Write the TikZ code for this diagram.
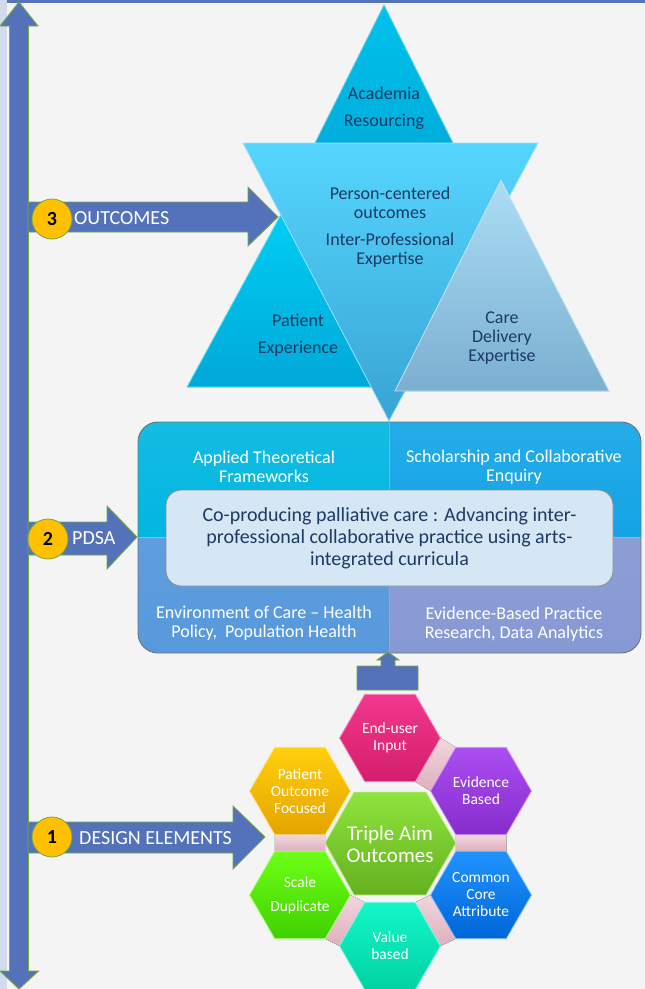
\documentclass[tikz,border=0pt]{standalone}
\usepackage{fontspec}
\setmainfont{Carlito}
\usetikzlibrary{shapes.geometric,calc}
\pgfdeclarelayer{bgl}
\pgfdeclarelayer{connl}
\pgfsetlayers{bgl,connl,main}
\definecolor{bgc}{HTML}{F4F4F4}
\definecolor{stripc}{HTML}{D2DBEC}
\definecolor{barblue}{HTML}{5473B8}
\definecolor{arrowblue}{HTML}{5472B9}
\definecolor{arrowgreen}{HTML}{76A83C}
\definecolor{numfill}{HTML}{FFC000}
\definecolor{navy}{HTML}{1C3A63}
\definecolor{acadT}{HTML}{00C2EC}
\definecolor{acadB}{HTML}{00A6D6}
\definecolor{patT}{HTML}{00D4F9}
\definecolor{patB}{HTML}{00A8D8}
\definecolor{invT}{HTML}{55D6FF}
\definecolor{invB}{HTML}{38A4D4}
\definecolor{careT}{HTML}{ABDDF5}
\definecolor{careB}{HTML}{7BAFD0}
\definecolor{qa}{HTML}{00B6E0}
\definecolor{qb}{HTML}{13A4E6}
\definecolor{qc}{HTML}{5799DC}
\definecolor{qd}{HTML}{8799D3}
\definecolor{corefill}{HTML}{D5E7F5}
\definecolor{euT}{HTML}{F2378D}
\definecolor{euB}{HTML}{D41E6B}
\definecolor{evT}{HTML}{AA4EF2}
\definecolor{evB}{HTML}{872CCC}
\definecolor{ccT}{HTML}{2092FF}
\definecolor{ccB}{HTML}{0066D6}
\definecolor{vbT}{HTML}{14F6C8}
\definecolor{vbB}{HTML}{00D2A2}
\definecolor{sdT}{HTML}{6EFF16}
\definecolor{sdB}{HTML}{40D000}
\definecolor{poT}{HTML}{FFD00C}
\definecolor{poB}{HTML}{E5A300}
\definecolor{taT}{HTML}{8EE43C}
\definecolor{taB}{HTML}{66B020}
\definecolor{pinkT}{HTML}{F2D6DD}
\definecolor{pinkB}{HTML}{DDB0BD}
\begin{document}
\begin{tikzpicture}[x=1pt,y=-1pt,
  blockarrow/.style={fill=arrowblue, draw=arrowgreen, line width=0.9pt, line join=miter},
  numcirc/.style={circle, fill=numfill, draw=arrowgreen, line width=0.8pt, minimum size=40pt, inner sep=0pt, font=\fontsize{20}{20}\selectfont\bfseries},
  arrowlabel/.style={anchor=west, text=white, font=\fontsize{20}{22}\selectfont, inner sep=0pt},
  tritext/.style={text=navy, align=center, font=\fontsize{18}{19}\selectfont, inner sep=0pt},
  quadtext/.style={text=white, align=center, font=\fontsize{18}{19}\selectfont, inner sep=0pt},
  hex/.style={regular polygon, regular polygon sides=6, minimum size=101pt, inner sep=0pt, outer sep=0pt, text=white, align=center, font=\fontsize{15.5}{17}\selectfont, line width=0.8pt},
  pinkconn/.style={top color=pinkT, bottom color=pinkB}
]
\begin{pgfonlayer}{bgl}
\fill[bgc] (0,0) rectangle (645,989);
\fill[stripc] (0,0) rectangle (7,989);
\fill[barblue] (7,0) rectangle (645,3.3);
\end{pgfonlayer}
\useasboundingbox (0,0) rectangle (645,989);

% vertical double arrow
\draw[blockarrow] (19,2) -- (38,26) -- (28.5,26) -- (28.5,971) -- (38.5,971) -- (19,989) -- (0,971) -- (9.5,971) -- (9.5,26) -- (0,26) -- cycle;

% triangles
\fill[top color=acadT, bottom color=acadB] (384,5) -- (480,197) -- (288,197) -- cycle;
\draw[acadT!60!white, line width=0.8pt] (384,5) -- (480,197) -- (288,197) -- cycle;
\fill[top color=patT, bottom color=patB] (297,185) -- (407,387) -- (187,387) -- cycle;
\draw[patT!60!white, line width=0.8pt] (297,185) -- (407,387) -- (187,387) -- cycle;
\fill[top color=invT, bottom color=invB] (243,143) -- (538,143) -- (389,421) -- cycle;
\draw[invT!60!white, line width=0.8pt] (243,143) -- (538,143) -- (389,421) -- cycle;
\fill[top color=careT, bottom color=careB] (501,180) -- (609,391) -- (395,391) -- cycle;
\draw[careT!70!white, line width=0.8pt] (501,180) -- (609,391) -- (395,391) -- cycle;

\node[tritext] (acad) at (384,108) {Academia\\[8pt]Resourcing};
\node[tritext] (person) at (390,227) {Person-centered\\outcomes\\[8pt]Inter-Professional\\Expertise};
\node[tritext] (patient) at (298,335) {Patient\\[8pt]Experience};
\node[tritext] (care) at (502,338) {Care\\Delivery\\Expertise};

% outcomes arrow
\draw[blockarrow] (28,202) -- (248,202) -- (248,187) -- (278,217) -- (248,246) -- (248,232) -- (28,232) -- cycle;
\node[numcirc] (n3) at (52,219) {3};
\node[arrowlabel] (t3) at (74,218) {OUTCOMES};

% PDSA arrow
\draw[blockarrow] (28,522) -- (107,522) -- (107,506) -- (137,537) -- (107,569) -- (107,555) -- (28,555) -- cycle;
\node[numcirc] (n2) at (48,539) {2};
\node[arrowlabel] (t2) at (72,538) {PDSA};

% design arrow
\draw[blockarrow] (28,822) -- (233,822) -- (233,806) -- (265,837) -- (233,869) -- (233,853) -- (28,853) -- cycle;
\node[numcirc] (n1) at (52,837) {1};
\node[arrowlabel] (t1) at (79,838) {DESIGN ELEMENTS};

% quadrant box
\begin{scope}
\clip[rounded corners=20pt] (138,422) rectangle (641,653);
\fill[top color=qa!92!white, bottom color=qa] (138,422) rectangle (389,537);
\fill[top color=qb!92!white, bottom color=qb] (389,422) rectangle (641,537);
\fill[top color=qc!95!white, bottom color=qc] (138,537) rectangle (389,653);
\fill[top color=qd!95!white, bottom color=qd] (389,537) rectangle (641,653);
\draw[black!35, line width=0.6pt] (389,422) -- (389,653);
\draw[black!30, line width=0.6pt] (138,537) -- (641,537);
\end{scope}
\draw[black!55, line width=0.9pt, rounded corners=20pt] (138,422) rectangle (641,653);

\node[quadtext] (qA) at (264,467) {Applied Theoretical\\Frameworks};
\node[quadtext] (qB) at (514,467) {Scholarship and Collaborative\\Enquiry};
\node[quadtext] (qC) at (264,623) {Environment of Care -- Health\\Policy,~ Population Health};
\node[quadtext] (qD) at (514,624) {Evidence-Based Practice\\Research, Data Analytics};

\node[draw=black!45, line width=0.9pt, fill=corefill, rounded corners=15pt, minimum width=447pt, minimum height=96pt, align=center, text=navy, font=\fontsize{20}{22}\selectfont, inner sep=0pt] (core) at (389.5,538) {Co-producing palliative care : Advancing inter-\\professional collaborative practice using arts-\\integrated curricula};

% small up arrow
\draw[blockarrow] (357,690) -- (357,666) -- (381,666) -- (381,660) -- (377,660) -- (388,652) -- (399,660) -- (395,660) -- (395,666) -- (418,666) -- (418,690) -- cycle;

% hexagons
\node[hex, top color=euT, bottom color=euB, draw=euT!55!white] (eu) at (390,738) {End-user\\Input};
\node[hex, top color=poT, bottom color=poB, draw=poT!55!white] (po) at (300,791) {Patient\\Outcome\\Focused};
\node[hex, top color=evT, bottom color=evB, draw=evT!55!white] (ev) at (481,791) {Evidence\\Based};
\node[hex, top color=sdT, bottom color=sdB, draw=sdT!55!white] (sd) at (300,895) {Scale\\[7pt]Duplicate};
\node[hex, top color=ccT, bottom color=ccB, draw=ccT!55!white] (cc) at (481,895) {Common\\Core\\Attribute};
\node[hex, top color=vbT, bottom color=vbB, draw=vbT!55!white] (vb) at (390,946) {Value\\based};
% central hexagon (wider than tall)
\path[top color=taT, bottom color=taB, draw=taT!55!white, line width=0.8pt]
  (325,843) -- (354,792) -- (426,792) -- (456,843) -- (426,895) -- (354,895) -- cycle;
\node[text=white, align=center, font=\fontsize{21}{22}\selectfont, inner sep=0pt] (ta) at (390,844) {Triple Aim\\Outcomes};

\begin{pgfonlayer}{connl}
\fill[pinkconn] (eu.0) -- (eu.-60) -- (ev.180) -- (ev.120) -- cycle;
\fill[pinkconn] (po.-120) -- (po.-60) -- (sd.60) -- (sd.120) -- cycle;
\fill[pinkconn] (ev.-120) -- (ev.-60) -- (cc.60) -- (cc.120) -- cycle;
\fill[pinkconn] (sd.0) -- (sd.-60) -- (vb.180) -- (vb.120) -- cycle;
\fill[pinkconn] (vb.60) -- (vb.0) -- (cc.-120) -- (cc.180) -- cycle;
\end{pgfonlayer}
\end{tikzpicture}
\end{document}
